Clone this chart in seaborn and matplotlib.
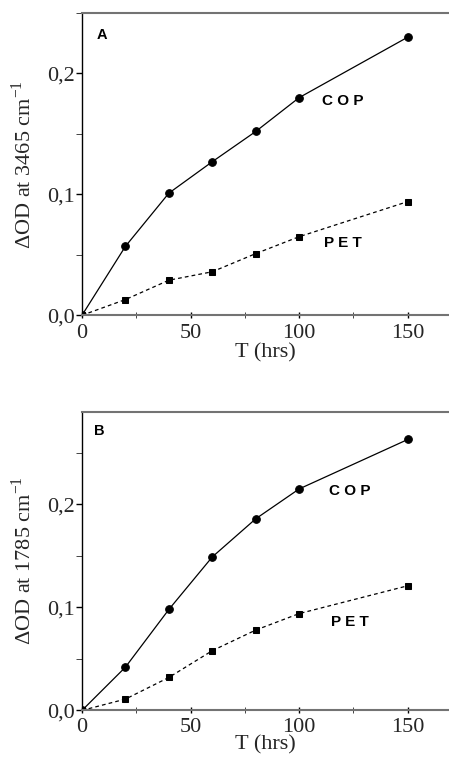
import numpy as np
import pandas as pd
import matplotlib
matplotlib.use('Agg')
import matplotlib.pyplot as plt
from matplotlib.ticker import FuncFormatter, MultipleLocator
import seaborn as sns

# data
hours = [0, 20, 40, 60, 80, 100, 150]
cop_3465 = [0.0, 0.057, 0.101, 0.127, 0.152, 0.180, 0.230]
pet_3465 = [0.0, 0.013, 0.029, 0.036, 0.051, 0.065, 0.094]
cop_1785 = [0.0, 0.042, 0.098, 0.149, 0.186, 0.215, 0.263]
pet_1785 = [0.0, 0.011, 0.032, 0.058, 0.078, 0.094, 0.121]

sns.set_style('ticks')
plt.rcParams['font.family'] = ['Liberation Serif', 'DejaVu Serif']
plt.rcParams['mathtext.fontset'] = 'custom'
plt.rcParams['mathtext.rm'] = 'Liberation Serif'

fig = plt.figure(figsize=(4.49, 7.59), dpi=100)
axA = fig.add_axes([0.1826, 0.5846, 0.8174, 0.3983])
axB = fig.add_axes([0.1826, 0.0640, 0.8174, 0.3936])

comma = FuncFormatter(lambda v, p: f'{v:.1f}'.replace('.', ','))


def panel(ax, cop, pet, ymax, letter, wn, pos, xpad, tpad):
    sns.lineplot(x=hours, y=cop, ax=ax, color='black', lw=0.9,
                 marker='o', markersize=5.5, markeredgecolor='black')
    sns.lineplot(x=hours, y=pet, ax=ax, color='black', lw=0.9,
                 marker='s', markersize=5, markeredgecolor='black',
                 linestyle=(0, (3, 2.5)))
    ax.set_xlim(0, 169)
    ax.set_ylim(0, ymax)
    ax.xaxis.set_major_locator(MultipleLocator(50))
    ax.xaxis.set_minor_locator(MultipleLocator(25))
    ax.yaxis.set_major_locator(MultipleLocator(0.1))
    ax.yaxis.set_minor_locator(MultipleLocator(0.05))
    ax.yaxis.set_major_formatter(comma)
    ax.tick_params(axis='both', which='major', labelsize=16, width=1,
                   color='black')
    ax.tick_params(axis='y', which='major', direction='out', length=4, pad=1)
    ax.tick_params(axis='y', which='minor', direction='out', length=4)
    ax.tick_params(axis='x', which='major', direction='inout', length=5, pad=tpad)
    ax.tick_params(axis='x', which='minor', direction='inout', length=4)
    ax.spines['right'].set_visible(False)
    ax.spines['left'].set_color('black')
    ax.spines['left'].set_linewidth(1.0)
    for s in ['top', 'bottom']:
        ax.spines[s].set_color('0.45')
        ax.spines[s].set_linewidth(1.5)
    ax.set_xlabel('T (hrs)', fontsize=16, labelpad=xpad)
    ax.set_ylabel(r'ΔOD at ' + wn + r' cm$^{\mathrm{-1}}$', fontsize=16, labelpad=8)
    sans = dict(family=['Liberation Sans', 'DejaVu Sans'], fontweight='bold',
                color='black', transform=ax.transAxes, ha='center', va='center')
    ax.text(pos[0][0], pos[0][1], letter, fontsize=10.5, **sans)
    ax.text(pos[1][0], pos[1][1], 'C O P', fontsize=11, **sans)
    ax.text(pos[2][0], pos[2][1], 'P E T', fontsize=11, **sans)


panel(axA, cop_3465, pet_3465, 0.25, 'A', '3465',
      [(0.054, 0.927), (0.711, 0.709), (0.711, 0.239)], 0, 4)
panel(axB, cop_1785, pet_1785, 0.29, 'B', '1785',
      [(0.046, 0.936), (0.730, 0.734), (0.730, 0.297)], -1, 3)

fig.savefig('out.png', dpi=100)
